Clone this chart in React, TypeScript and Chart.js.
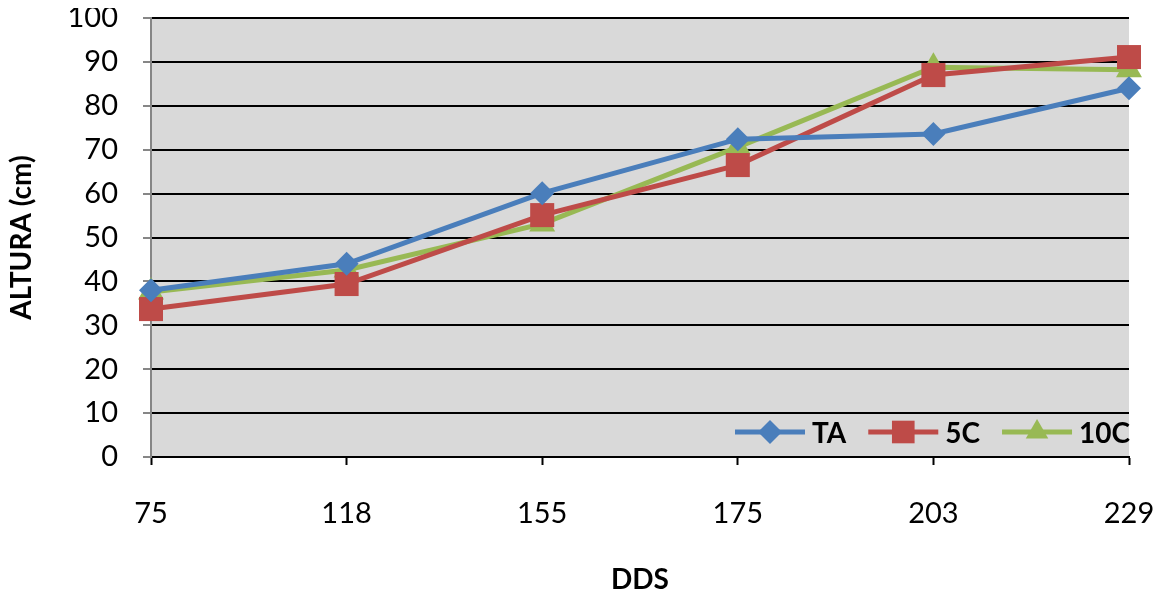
import React, { useEffect, useRef } from "react";
import { Chart, registerables } from "chart.js";

Chart.register(...registerables);

const categories = ["75", "118", "155", "175", "203", "229"];
const seriesTA = [38.0, 44.0, 60.1, 72.4, 73.6, 84.0];
const series5C = [33.7, 39.4, 55.1, 66.5, 87.0, 91.1];
const series10C = [37.6, 42.6, 53.1, 70.6, 88.8, 88.2];
const yTicks = [0, 10, 20, 30, 40, 50, 60, 70, 80, 90, 100];

const FONT = "Lato, 'Open Sans', sans-serif";

function drawMarker(ctx: CanvasRenderingContext2D, style: string, x: number, y: number, r: number, color: string) {
  ctx.save();
  ctx.fillStyle = color;
  ctx.beginPath();
  if (style === "rectRot") {
    ctx.moveTo(x - r, y);
    ctx.lineTo(x, y - r);
    ctx.lineTo(x + r, y);
    ctx.lineTo(x, y + r);
  } else if (style === "rect") {
    const s = r * Math.SQRT1_2;
    ctx.rect(x - s, y - s, 2 * s, 2 * s);
  } else {
    const a = (Math.PI * 2) / 3;
    let rad = 0;
    ctx.moveTo(x + Math.sin(rad) * r, y - Math.cos(rad) * r);
    rad += a;
    ctx.lineTo(x + Math.sin(rad) * r, y - Math.cos(rad) * r);
    rad += a;
    ctx.lineTo(x + Math.sin(rad) * r, y - Math.cos(rad) * r);
  }
  ctx.closePath();
  ctx.fill();
  ctx.restore();
}

const bgPlugin = {
  id: "plotBg",
  beforeDraw(chart: any) {
    const { ctx, chartArea } = chart;
    ctx.save();
    ctx.fillStyle = "#ffffff";
    ctx.fillRect(0, 0, chart.width, chart.height);
    ctx.fillStyle = "#d9d9d9";
    ctx.fillRect(chartArea.left, chartArea.top, chartArea.right - chartArea.left, chartArea.bottom - chartArea.top);
    ctx.restore();
  },
};

const legendPlugin = {
  id: "insideLegend",
  afterDraw(chart: any) {
    const { ctx, chartArea } = chart;
    const y = chartArea.bottom - 25;
    let x = chartArea.right - 394;
    ctx.save();
    ctx.font = "bold 28px " + FONT;
    ctx.textBaseline = "middle";
    ctx.textAlign = "left";
    chart.data.datasets.forEach((ds: any) => {
      ctx.strokeStyle = ds.borderColor;
      ctx.lineWidth = 5;
      ctx.beginPath();
      ctx.moveTo(x, y);
      ctx.lineTo(x + 70, y);
      ctx.stroke();
      drawMarker(ctx, ds.pointStyle, x + 35, y, ds.legendRadius, ds.backgroundColor);
      ctx.fillStyle = "#000";
      ctx.fillText(ds.label, x + 77, y + 2);
      x += 77 + ctx.measureText(ds.label).width + 22;
    });
    ctx.restore();
  },
};

export default function App() {
  const ref = useRef<HTMLCanvasElement>(null);
  useEffect(() => {
    if (!ref.current) return;
    const mk = (label: string, data: number[], color: string, style: string, r: number, lr: number) => ({
      label,
      data,
      borderColor: color,
      backgroundColor: color,
      borderWidth: 5,
      pointStyle: style,
      pointRadius: r,
      pointBorderWidth: 0,
      pointBackgroundColor: color,
      legendRadius: lr,
      tension: 0,
      clip: false,
    });
    const chart = new Chart(ref.current, {
      type: "line",
      data: {
        labels: categories,
        datasets: [
          mk("TA", seriesTA, "#4a7ebb", "rectRot", 12, 12),
          mk("5C", series5C, "#be4b48", "rect", 17, 16),
          mk("10C", series10C, "#98b954", "triangle", 15, 13),
        ] as any,
      },
      options: {
        animation: false,
        responsive: false,
        layout: { autoPadding: false, padding: { top: 18, right: 35, left: 0, bottom: 0 } },
        plugins: { legend: { display: false }, tooltip: { enabled: false } },
        scales: {
          x: {
            offset: false,
            grid: { drawOnChartArea: false, drawTicks: true, tickLength: 8, tickColor: "#000", tickWidth: 2, offset: false },
            border: { color: "#000", width: 2 },
            ticks: { color: "#000", padding: 34, font: { family: FONT, size: 29, lineHeight: 1 }, maxRotation: 0 },
            title: { display: true, text: "DDS", color: "#000", font: { family: FONT, size: 28, weight: "bold", lineHeight: 1 }, padding: { top: 0, bottom: 2 } },
            afterFit(scale: any) {
              scale.height = 139;
              scale.paddingLeft = 0;
              scale.paddingRight = 0;
              scale.paddingTop = 0;
              scale.paddingBottom = 0;
            },
          },
          y: {
            min: 0,
            max: 100,
            afterBuildTicks(scale: any) {
              scale.ticks = yTicks.map((v) => ({ value: v }));
            },
            grid: { color: "#000", lineWidth: 2, tickLength: 8, tickColor: "#868686", tickWidth: 2 },
            border: { color: "#868686", width: 2 },
            ticks: { color: "#000", padding: 25, font: { family: FONT, size: 29, lineHeight: 1 } },
            title: { display: true, text: "ALTURA (cm)", color: "#000", font: { family: FONT, size: 28, weight: "bold", lineHeight: 1 }, padding: { top: 8, bottom: 0 } },
            afterFit(scale: any) {
              scale.width = 151;
              scale.paddingLeft = 0;
              scale.paddingRight = 0;
              scale.paddingTop = 0;
              scale.paddingBottom = 0;
            },
          },
        },
      } as any,
      plugins: [bgPlugin, legendPlugin],
    });
    return () => chart.destroy();
  }, []);
  return (
    <canvas
      ref={ref}
      width={1164}
      height={596}
      style={{ display: "block", margin: "-8px 0 0 -8px" }}
    />
  );
}
